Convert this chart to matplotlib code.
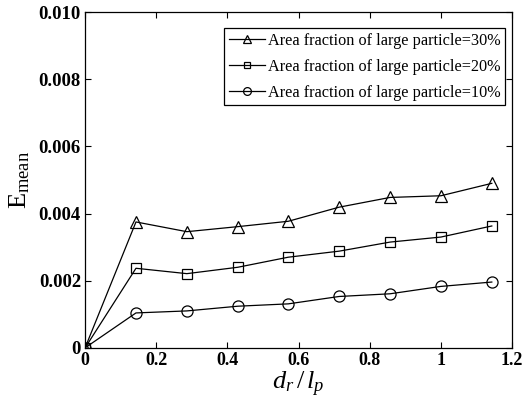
import matplotlib
matplotlib.use("Agg")
import matplotlib.pyplot as plt

x = [0, 0.143, 0.286, 0.429, 0.571, 0.714, 0.857, 1.0, 1.143]
y30 = [0, 0.00375, 0.00346, 0.00361, 0.00377, 0.00419, 0.00448, 0.00453, 0.00490]
y20 = [0, 0.00237, 0.00221, 0.00240, 0.00270, 0.00288, 0.00315, 0.00330, 0.00363]
y10 = [0, 0.00104, 0.00110, 0.00124, 0.00131, 0.00153, 0.00161, 0.00183, 0.00196]
labels = ["Area fraction of large particle=30%",
          "Area fraction of large particle=20%",
          "Area fraction of large particle=10%"]
xticks = [0, 0.2, 0.4, 0.6, 0.8, 1.0, 1.2]
xticklabels = ["0", "0.2", "0.4", "0.6", "0.8", "1", "1.2"]
yticks = [0, 0.002, 0.004, 0.006, 0.008, 0.010]
yticklabels = ["0", "0.002", "0.004", "0.006", "0.008", "0.010"]

plt.rcParams['font.family'] = ['Liberation Serif', 'DejaVu Serif']
plt.rcParams['mathtext.fontset'] = 'custom'
plt.rcParams['mathtext.rm'] = 'Liberation Serif'
plt.rcParams['mathtext.it'] = 'Liberation Serif:italic'

fig = plt.figure(figsize=(5.22, 4.04), dpi=100)
ax = fig.add_axes([0.163, 0.139, 0.818, 0.831])

kw = dict(color='black', linewidth=0.9, markerfacecolor='none', markeredgecolor='black',
          markersize=8, markeredgewidth=0.9)
ax.plot(x, y30, marker='^', label=labels[0], **kw)
ax.plot(x, y20, marker='s', label=labels[1], **dict(kw, markersize=7))
ax.plot(x, y10, marker='o', label=labels[2], **kw)

ax.set_xlim(0, 1.2)
ax.set_ylim(0, 0.010)
ax.set_xticks(xticks)
ax.set_xticklabels(xticklabels, fontsize=13, fontweight='bold')
ax.set_yticks(yticks)
ax.set_yticklabels(yticklabels, fontsize=13.5, fontweight='bold')
ax.tick_params(direction='in', top=True, right=True, length=4, width=0.8, pad=3)
for s in ax.spines.values():
    s.set_linewidth(0.9)

ax.set_xlabel(r'$d_r\,/\,l_p$', fontsize=19, labelpad=1)
ax.set_ylabel(r'$\mathrm{E}_{\mathrm{mean}}$', fontsize=19, labelpad=5)

leg = ax.legend(loc='upper right', bbox_to_anchor=(0.984, 0.952), fontsize=11.7,
                frameon=True, fancybox=False, edgecolor='black',
                handlelength=2.2, handletextpad=0.2, markerscale=0.7,
                borderaxespad=0.0, labelspacing=0.6, borderpad=0.3)
leg.get_frame().set_linewidth(0.9)
leg.get_frame().set_alpha(1)

fig.savefig("out.png", dpi=100)
